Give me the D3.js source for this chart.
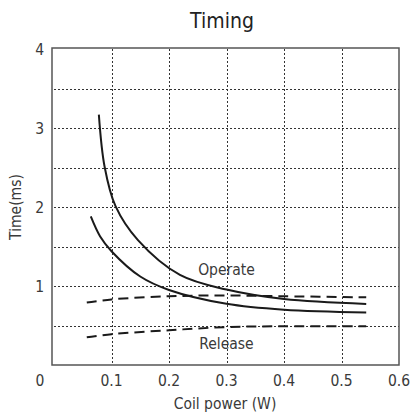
<!DOCTYPE html>
<html>
<head>
<meta charset="utf-8">
<script src="https://cdn.jsdelivr.net/npm/d3@7"></script>
<style>
    html, body { margin: 0; padding: 0; background: #fff; }
    svg { display: block; font-family: "DejaVu Sans Condensed", "Open Sans", sans-serif; }
</style>
</head>
<body>
<div id="chart"></div>
<script>
    "use strict";

    const xTicks = [0.1, 0.2, 0.3, 0.4, 0.5, 0.6];
    const yTicks = [1, 2, 3, 4];

    // solid curves
    const operateUpper = [[0.078, 3.17], [0.088, 2.51], [0.107, 2.01], [0.146, 1.58], [0.219, 1.14], [0.3, 0.955], [0.4, 0.835], [0.543, 0.773]];
    const operateLower = [[0.064, 1.88], [0.08, 1.63], [0.1, 1.44], [0.15, 1.12], [0.2, 0.95], [0.3, 0.775], [0.4, 0.70], [0.543, 0.666]];
    // dashed curves
    const releaseUpper = [[0.057, 0.79], [0.1, 0.83], [0.2, 0.87], [0.3, 0.88], [0.4, 0.87], [0.543, 0.857]];
    const releaseLower = [[0.057, 0.35], [0.1, 0.39], [0.2, 0.44], [0.3, 0.48], [0.4, 0.49], [0.543, 0.49]];

    const width = 412;
    const height = 415;

    const svg = d3.select("#chart")
        .append("svg")
        .attr("width", width)
        .attr("height", height);

    const x = d3.scaleLinear().domain([0, 0.6]).range([54, 399]);
    const y = d3.scaleLinear().domain([0, 4]).range([365, 49]);

    // grid
    const grid = svg.append("g")
        .attr("stroke", "#333")
        .attr("stroke-width", 1)
        .attr("stroke-dasharray", "2,2");

    grid.selectAll("line.v")
        .data([0.1, 0.2, 0.3, 0.4, 0.5])
        .join("line")
        .attr("class", "v")
        .attr("x1", (d) => Math.round(x(d)) + 0.5)
        .attr("x2", (d) => Math.round(x(d)) + 0.5)
        .attr("y1", y(4))
        .attr("y2", y(0));

    grid.selectAll("line.h")
        .data([0.5, 1, 1.5, 2, 2.5, 3, 3.5])
        .join("line")
        .attr("class", "h")
        .attr("x1", x(0))
        .attr("x2", x(0.6))
        .attr("y1", (d) => Math.round(y(d)) + 0.5)
        .attr("y2", (d) => Math.round(y(d)) + 0.5);

    // frame
    svg.append("rect")
        .attr("x", x(0) - 2)
        .attr("y", y(4) - 1)
        .attr("width", x(0.6) - x(0) + 2)
        .attr("height", y(0) - y(4) + 1)
        .attr("fill", "none")
        .attr("stroke", "#555")
        .attr("stroke-width", 1.5);

    const line = d3.line()
        .x((d) => x(d[0]))
        .y((d) => y(d[1]))
        .curve(d3.curveCatmullRom.alpha(0.5));

    [operateUpper, operateLower].forEach((series) => {
        svg.append("path")
            .datum(series)
            .attr("d", line)
            .attr("fill", "none")
            .attr("stroke", "#1a1a1a")
            .attr("stroke-width", 2);
    });

    [releaseUpper, releaseLower].forEach((series) => {
        svg.append("path")
            .datum(series)
            .attr("d", line)
            .attr("fill", "none")
            .attr("stroke", "#1a1a1a")
            .attr("stroke-width", 2)
            .attr("stroke-dasharray", "10,6");
    });

    // tick labels
    const textStyle = (sel) => sel
        .attr("fill", "#3a3a3a")
        .style("font-size", "15.5px");

    svg.append("g")
        .selectAll("text")
        .data(xTicks)
        .join("text")
        .attr("x", (d) => x(d))
        .attr("y", y(0) + 21)
        .attr("text-anchor", "middle")
        .call(textStyle)
        .text((d) => d);

    svg.append("text")
        .attr("x", x(0) - 14)
        .attr("y", y(0) + 21)
        .attr("text-anchor", "middle")
        .call(textStyle)
        .text("0");

    svg.append("g")
        .selectAll("text")
        .data(yTicks)
        .join("text")
        .attr("x", x(0) - 10)
        .attr("y", (d) => y(d) + 6)
        .attr("text-anchor", "end")
        .call(textStyle)
        .text((d) => d);

    // axis titles
    svg.append("text")
        .attr("x", 225)
        .attr("y", 409)
        .attr("text-anchor", "middle")
        .call(textStyle)
        .text("Coil power (W)");

    svg.append("text")
        .attr("transform", `translate(21,${(y(0) + y(4)) / 2}) rotate(-90)`)
        .attr("text-anchor", "middle")
        .call(textStyle)
        .text("Time(ms)");

    svg.append("text")
        .attr("x", 222)
        .attr("y", 28)
        .attr("text-anchor", "middle")
        .attr("fill", "#222")
        .style("font-size", "21px")
        .text("Timing");

    // curve labels
    svg.append("text")
        .attr("x", x(0.3))
        .attr("y", 275)
        .attr("text-anchor", "middle")
        .call(textStyle)
        .text("Operate");

    svg.append("text")
        .attr("x", x(0.3))
        .attr("y", 349)
        .attr("text-anchor", "middle")
        .call(textStyle)
        .text("Release");
</script>
</body>
</html>
